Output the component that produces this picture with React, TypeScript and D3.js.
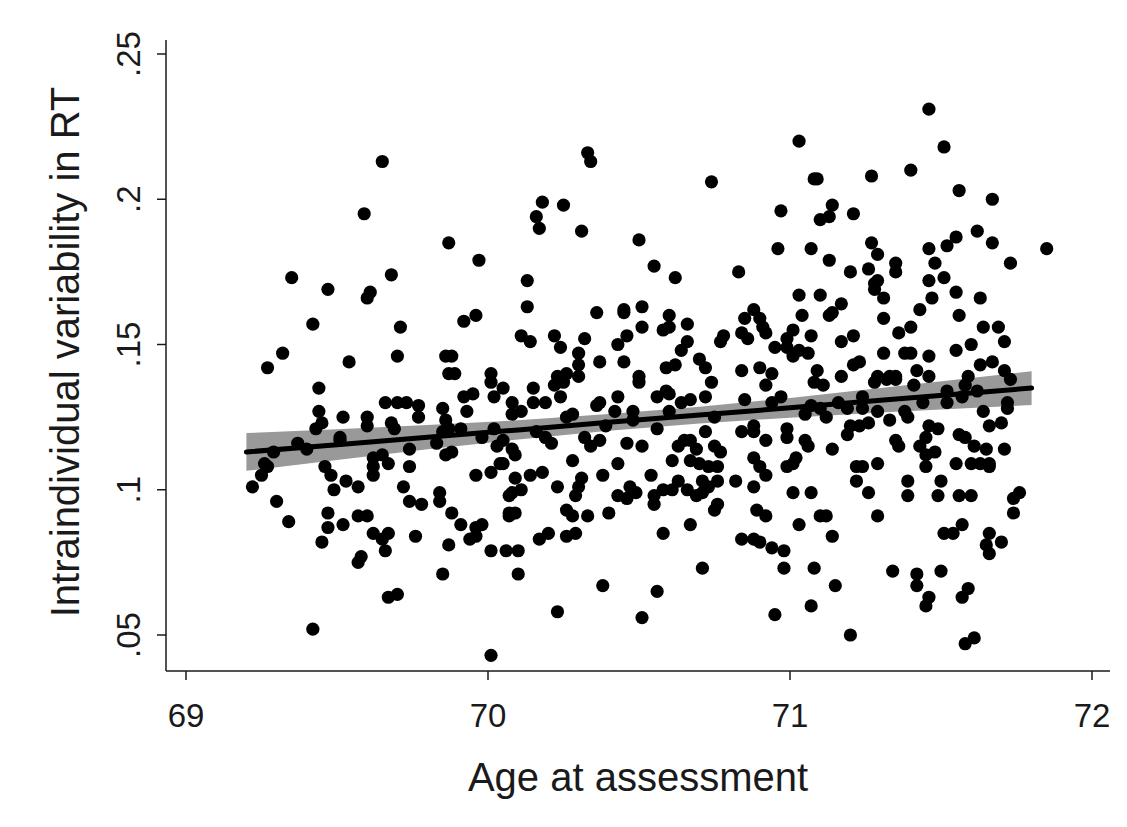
import React from "react";
import * as d3 from "d3";

// [age at assessment, intraindividual variability in RT]
const observations: [number, number][] = [
  [69.59,.195],[69.35,.173],[69.47,.169],[69.60,.166],[69.61,.168],[69.42,.157],[69.32,.147],[69.27,.142],[69.54,.144],
  [69.44,.135],[69.44,.127],[69.52,.125],[69.60,.125],[69.60,.122],[69.43,.121],[69.45,.123],[69.51,.118],[69.51,.117],
  [69.37,.116],[69.40,.114],[69.29,.113],[69.26,.109],[69.27,.108],[69.25,.105],[69.22,.101],[69.46,.108],[69.48,.105],
  [69.49,.100],[69.53,.103],[69.57,.101],[69.62,.108],[69.62,.111],[69.62,.105],[69.30,.096],[69.34,.089],[69.47,.092],
  [69.47,.087],[69.52,.088],[69.57,.091],[69.60,.091],[69.62,.085],[69.45,.082],[69.58,.077],[69.57,.075],[69.42,.052],
  [69.65,.213],[69.87,.185],[69.97,.179],[69.68,.174],[69.71,.156],[69.92,.158],[69.96,.160],[69.70,.146],[69.86,.146],
  [69.88,.146],[69.87,.140],[69.89,.140],[70.01,.140],
  [70.01,.137],[70.05,.135],[70.02,.132],[69.92,.132],[69.95,.133],[69.66,.130],[69.70,.130],[69.73,.130],[69.77,.129],
  [69.77,.125],[69.85,.128],[69.93,.127],[69.68,.123],[69.69,.121],[69.86,.124],[69.87,.121],[69.91,.121],[69.85,.120],
  [70.02,.121],[69.98,.118],[70.05,.117],[70.03,.115],[69.74,.114],[69.83,.116],[69.86,.112],[69.88,.113],[69.65,.112],
  [69.67,.109],[70.04,.109],[70.05,.109],[69.74,.108],[69.96,.105],[70.01,.106],[69.72,.101],[69.84,.099],[69.84,.096],
  [69.74,.096],[69.78,.095],[69.88,.092],[69.91,.088],[70.07,.098],[70.07,.092],[69.65,.083],[69.67,.085],[69.66,.079],
  [69.76,.084],[69.94,.083],[69.96,.087],[69.98,.088],[69.96,.084],[69.87,.081],[70.01,.079],[70.06,.079],[69.85,.071],
  [69.67,.063],[69.70,.064],[70.01,.043],
  [70.33,.216],[70.34,.213],[70.18,.199],[70.25,.198],[70.16,.194],[70.17,.190],[70.31,.189],[70.50,.186],[70.13,.172],
  [70.13,.163],[70.36,.161],[70.45,.161],[70.45,.162],[70.51,.163],[70.51,.156],[70.11,.153],[70.14,.151],[70.22,.153],
  [70.32,.152],[70.46,.153],[70.43,.150],[70.24,.149],[70.30,.147],[70.37,.144],[70.45,.144],[70.30,.143],[70.23,.139],
  [70.26,.140],[70.30,.139],[70.50,.139],
  [70.15,.135],[70.22,.136],[70.25,.137],[70.43,.132],[70.50,.137],[70.08,.130],[70.15,.130],[70.19,.130],[70.24,.132],
  [70.11,.127],[70.08,.126],[70.36,.129],[70.37,.130],[70.42,.127],[70.48,.127],[70.26,.125],[70.28,.126],[70.16,.120],
  [70.19,.118],[70.21,.116],[70.32,.118],[70.34,.115],[70.37,.117],[70.39,.122],[70.48,.124],[70.46,.116],[70.51,.115],
  [70.08,.114],[70.09,.112],[70.28,.110],[70.43,.109],[70.09,.104],[70.14,.105],[70.18,.106],[70.31,.104],[70.38,.105],
  [70.30,.101],[70.23,.101],[70.08,.099],[70.11,.100],[70.29,.098],[70.43,.098],[70.47,.101],[70.49,.099],[70.46,.097],
  [70.07,.091],[70.09,.092],[70.26,.093],[70.28,.091],[70.33,.091],[70.40,.092],[70.17,.083],[70.20,.085],[70.26,.084],
  [70.29,.085],[70.10,.079],[70.10,.071],[70.38,.067],[70.23,.058],[70.51,.056],
  [70.74,.206],[70.55,.177],[70.62,.173],[70.83,.175],[70.60,.160],[70.58,.155],[70.60,.156],[70.66,.157],[70.66,.151],
  [70.64,.148],[70.78,.153],[70.77,.151],[70.85,.159],[70.88,.162],[70.90,.159],[70.91,.156],[70.92,.154],[70.84,.154],
  [70.86,.152],[70.95,.149],[70.59,.142],[70.62,.143],[70.70,.145],[70.72,.142],[70.84,.141],[70.90,.142],[70.94,.140],
  [70.74,.137],[70.92,.136],[70.56,.132],[70.59,.134],[70.60,.133],[70.64,.130],[70.67,.131],[70.72,.132],[70.85,.131],
  [70.94,.130],[70.60,.127],[70.75,.125],[70.56,.121],[70.72,.120],[70.84,.120],[70.88,.122],[70.88,.120],[70.92,.117],
  [70.63,.115],[70.65,.117],[70.67,.117],[70.69,.114],[70.75,.115],[70.77,.113],[70.61,.110],[70.67,.110],[70.70,.109],
  [70.73,.108],[70.76,.108],[70.88,.111],[70.90,.108],[70.54,.105],[70.58,.100],[70.55,.098],[70.55,.095],[70.61,.100],
  [70.63,.103],[70.66,.100],[70.69,.098],[70.71,.099],[70.71,.103],[70.73,.101],[70.76,.103],[70.82,.103],[70.88,.101],
  [70.92,.105],[70.75,.093],[70.76,.095],[70.89,.093],[70.92,.091],[70.67,.088],[70.58,.085],[70.84,.083],[70.88,.083],
  [70.90,.082],[70.94,.080],[70.71,.073],[70.56,.065],[70.95,.057],
  [71.03,.220],[71.08,.207],[71.09,.207],[71.27,.208],[71.40,.210],[70.97,.196],[71.14,.198],[71.13,.194],[71.10,.193],
  [71.21,.195],[70.96,.183],[71.07,.183],[71.13,.179],[71.20,.175],[71.27,.185],[71.29,.181],[71.35,.178],[71.35,.175],
  [71.26,.176],[71.29,.172],[71.28,.171],[71.28,.169],[71.31,.166],[71.31,.159],[71.03,.167],[71.10,.167],[71.17,.164],
  [71.14,.161],[71.13,.160],[71.04,.160],[71.01,.155],[70.99,.152],[70.99,.149],[71.03,.148],[71.01,.146],[71.06,.147],
  [71.07,.153],[71.17,.151],[71.21,.153],[71.40,.156],[71.36,.154],[71.31,.147],[71.38,.147],[71.21,.143],[71.23,.144],
  [71.09,.141],[71.17,.139],[71.29,.139],[71.33,.139],[71.35,.139],
  [71.08,.137],[71.11,.136],[71.28,.137],[71.32,.138],[71.35,.138],[70.97,.132],[71.05,.126],[71.07,.129],[71.10,.128],
  [71.12,.125],[71.16,.130],[71.19,.128],[71.24,.132],[71.24,.128],[71.29,.127],[71.33,.124],[71.38,.127],[71.39,.125],
  [71.20,.122],[71.23,.122],[71.26,.123],[71.19,.119],[70.99,.121],[70.99,.118],[71.05,.117],[71.06,.115],[71.14,.114],
  [71.35,.117],[71.36,.115],[71.02,.111],[71.01,.109],[70.99,.108],[71.22,.108],[71.24,.108],[71.29,.109],[71.22,.103],
  [71.26,.099],[71.39,.103],[71.39,.098],[71.01,.099],[71.07,.099],[71.03,.088],[71.10,.091],[71.12,.091],[71.29,.091],
  [71.14,.084],[70.98,.079],[70.98,.073],[71.08,.073],[71.15,.067],[71.34,.072],[71.07,.060],[71.20,.050],
  [71.46,.231],[71.51,.218],[71.56,.203],[71.67,.200],[71.62,.189],[71.55,.187],[71.52,.184],[71.67,.185],[71.85,.183],
  [71.46,.183],[71.73,.178],[71.48,.178],[71.46,.172],[71.51,.173],[71.55,.168],[71.47,.166],[71.63,.166],[71.43,.162],
  [71.56,.160],[71.64,.156],[71.69,.156],[71.71,.151],[71.60,.150],[71.55,.148],[71.40,.147],[71.46,.146],[71.63,.143],
  [71.67,.144],[71.71,.141],[71.42,.141],[71.46,.139],[71.59,.139],
  [71.73,.138],[71.41,.136],[71.52,.134],[71.58,.136],[71.62,.134],[71.57,.132],[71.52,.130],[71.44,.130],[71.72,.130],
  [71.72,.128],[71.64,.127],[71.66,.122],[71.70,.123],[71.46,.122],[71.49,.121],[71.45,.118],[71.56,.119],[71.58,.118],
  [71.43,.115],[71.61,.115],[71.65,.114],[71.71,.114],[71.48,.113],[71.45,.112],[71.45,.108],[71.55,.109],[71.60,.109],
  [71.63,.109],[71.66,.109],[71.66,.108],[71.50,.103],[71.49,.098],[71.56,.098],[71.60,.098],[71.76,.099],[71.74,.097],
  [71.74,.092],[71.57,.088],[71.51,.085],[71.54,.085],[71.66,.085],[71.70,.082],[71.65,.081],[71.66,.078],[71.42,.071],
  [71.50,.072],[71.42,.067],[71.59,.066],[71.57,.063],[71.46,.063],[71.45,.060],[71.61,.049],[71.58,.047],
];

// Linear fit with 95% CI band
const fitAge = [69.2, 69.5, 69.8, 70.1, 70.4, 70.7, 71.0, 71.3, 71.6, 71.8];
const fitValue = [0.1130, 0.1155, 0.1181, 0.1206, 0.1232, 0.1257, 0.1282, 0.1308, 0.1333, 0.1350];
const ciLower = [0.1065, 0.1102, 0.1139, 0.1173, 0.1203, 0.1228, 0.1248, 0.1266, 0.1281, 0.1292];
const ciUpper = [0.1195, 0.1208, 0.1223, 0.1239, 0.1261, 0.1286, 0.1316, 0.1350, 0.1385, 0.1408];

const xTicks = [69, 70, 71, 72];
const yTicks = [0.05, 0.1, 0.15, 0.2, 0.25];
const yTickLabels = [".05", ".1", ".15", ".2", ".25"];
const xTitle = "Age at assessment";
const yTitle = "Intraindividual variability in RT";

export default function App() {
  const W = 1127, H = 827;
  const x = d3.scaleLinear().domain([69, 72]).range([186, 1092]);
  const y = d3.scaleLinear().domain([0.05, 0.25]).range([635, 54]);
  const axisX = 166, axisY = 671;
  const font = "'Liberation Sans', Arial, sans-serif";
  const txt = "#1a1a1a";

  const band = d3.area<number>()
    .x((_, i) => x(fitAge[i]))
    .y0((_, i) => y(ciLower[i]))
    .y1((_, i) => y(ciUpper[i]));
  const line = d3.line<number>()
    .x((_, i) => x(fitAge[i]))
    .y((d) => y(d));

  return (
    <svg width={W} height={H} style={{ position: "absolute", left: 0, top: 0, background: "#fff" }}>
      <rect x={0} y={0} width={W} height={H} fill="#fff" />
      <path d={band(fitAge) || ""} fill="#999999" />
      {observations.map(([a, v], i) => (
        <circle key={i} cx={x(a)} cy={y(v)} r={6.6} fill="#000" />
      ))}
      <path d={line(fitValue) || ""} fill="none" stroke="#000" strokeWidth={5} strokeLinecap="round" />
      {/* axes */}
      <line x1={axisX} x2={axisX} y1={40} y2={axisY} stroke={txt} strokeWidth={1.5} />
      <line x1={axisX} x2={1110} y1={axisY} y2={axisY} stroke={txt} strokeWidth={1.5} />
      {yTicks.map((t, i) => (
        <g key={i}>
          <line x1={axisX - 9} x2={axisX} y1={y(t)} y2={y(t)} stroke={txt} strokeWidth={1.5} />
          <text transform={`translate(${axisX - 26},${y(t)}) rotate(-90)`} textAnchor="middle"
            fontFamily={font} fontSize={33} fill={txt}>{yTickLabels[i]}</text>
        </g>
      ))}
      {xTicks.map((t, i) => (
        <g key={i}>
          <line x1={x(t)} x2={x(t)} y1={axisY} y2={axisY + 9} stroke={txt} strokeWidth={1.5} />
          <text x={x(t)} y={axisY + 56} textAnchor="middle" fontFamily={font} fontSize={33} fill={txt}>{t}</text>
        </g>
      ))}
      <text x={638} y={791} textAnchor="middle" fontFamily={font} fontSize={40} fill={txt}>{xTitle}</text>
      <text transform={`translate(79,352) rotate(-90)`} textAnchor="middle" fontFamily={font} fontSize={40} fill={txt}>{yTitle}</text>
    </svg>
  );
}
